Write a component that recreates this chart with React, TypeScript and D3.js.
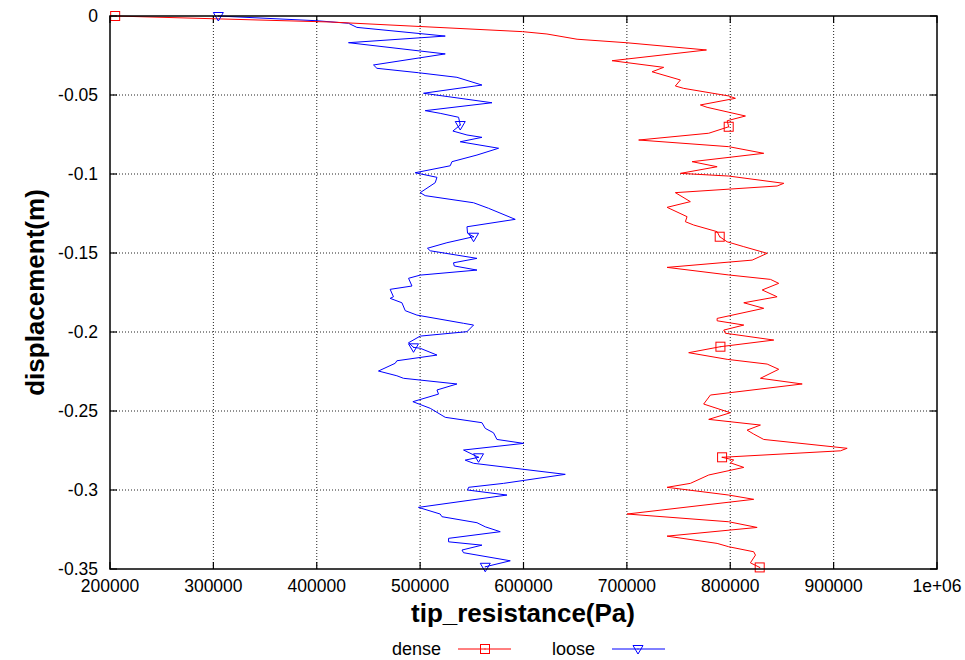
import React from "react";
import * as d3 from "d3";

const xTicks = [200000, 300000, 400000, 500000, 600000, 700000, 800000, 900000, 1000000];
const xTickLabels = ["200000", "300000", "400000", "500000", "600000", "700000", "800000", "900000", "1e+06"];
const yTicks = [0, -0.05, -0.1, -0.15, -0.2, -0.25, -0.3, -0.35];
const yTickLabels = ["0", "-0.05", "-0.1", "-0.15", "-0.2", "-0.25", "-0.3", "-0.35"];
const markerDepths = [0, -0.07, -0.14, -0.21, -0.28, -0.35];

const denseX = [205000, 413000, 599100, 622700, 651800, 699200, 777000, 685700, 735600, 724400, 751800, 746900, 755000, 798500, 805000, 771100, 777600, 814700, 797000, 798500, 779200, 711400, 798500, 832400, 763100, 787300, 751800, 798500, 851800, 845300, 746900, 761400, 738900, 758200, 756600, 764700, 787300, 789800, 797000, 813100, 835700, 821200, 738900, 798500, 838900, 846900, 830900, 845300, 813100, 832400, 787300, 787300, 813100, 793700, 795300, 842100, 790500, 759800, 797000, 835700, 846900, 829200, 869600, 780800, 774300, 800100, 779200, 829200, 816300, 822700, 832400, 913100, 906600, 792100, 803400, 800100, 813100, 779200, 761400, 738900, 798500, 822700, 700200, 798500, 826000, 738900, 787300, 798500, 822700, 824400, 819500, 828500];
const denseY = [0, -0.0038, -0.0099, -0.0114, -0.0147, -0.0169, -0.0215, -0.0283, -0.0325, -0.0353, -0.0405, -0.0443, -0.0458, -0.0506, -0.0521, -0.0563, -0.0578, -0.0633, -0.0663, -0.0701, -0.0742, -0.0785, -0.0827, -0.0869, -0.0922, -0.0954, -0.0996, -0.1013, -0.1059, -0.1076, -0.1118, -0.1175, -0.1211, -0.127, -0.1302, -0.1323, -0.1365, -0.1397, -0.1429, -0.146, -0.1502, -0.1545, -0.1591, -0.1639, -0.1667, -0.1692, -0.1734, -0.1777, -0.1815, -0.185, -0.1914, -0.1929, -0.1956, -0.1988, -0.2008, -0.2051, -0.2093, -0.2131, -0.2173, -0.2203, -0.2236, -0.2293, -0.2329, -0.2399, -0.2456, -0.2511, -0.2553, -0.2589, -0.2621, -0.2646, -0.268, -0.2736, -0.2752, -0.2793, -0.281, -0.2828, -0.2857, -0.2905, -0.2958, -0.2983, -0.3032, -0.3059, -0.3152, -0.3201, -0.3237, -0.3292, -0.3338, -0.3359, -0.3391, -0.3412, -0.3461, -0.349];

const looseX = [304800, 400100, 430700, 438800, 524300, 430700, 524300, 454900, 458200, 498400, 535600, 559800, 503300, 569500, 504900, 519400, 537200, 538800, 531700, 545300, 559800, 538800, 575900, 555000, 530800, 529100, 495200, 516300, 514600, 500100, 504900, 551700, 566200, 592000, 545300, 545900, 551700, 525900, 507100, 509800, 555000, 532300, 533000, 555000, 500100, 488800, 492100, 471000, 474200, 471000, 482400, 485600, 496900, 542000, 551700, 545300, 500100, 488800, 493600, 500100, 516300, 477500, 475900, 459700, 477500, 483900, 535600, 516300, 517800, 493000, 509800, 524300, 559800, 563000, 571000, 574300, 600100, 542000, 556500, 543600, 551700, 640400, 580700, 546900, 545900, 584000, 498400, 519400, 521100, 555000, 563000, 577500, 527500, 527500, 559800, 540500, 542000, 587200, 563000];
const looseY = [0, -0.003, -0.0046, -0.0072, -0.0127, -0.0169, -0.024, -0.031, -0.0331, -0.0359, -0.0388, -0.0437, -0.0489, -0.0549, -0.0599, -0.0616, -0.0641, -0.069, -0.0728, -0.0753, -0.0768, -0.0796, -0.0837, -0.088, -0.0922, -0.0948, -0.0992, -0.1021, -0.1055, -0.1118, -0.1137, -0.1182, -0.1217, -0.1287, -0.1334, -0.1375, -0.1397, -0.1435, -0.147, -0.1486, -0.1534, -0.1562, -0.1582, -0.1608, -0.164, -0.166, -0.1709, -0.173, -0.1777, -0.1787, -0.1815, -0.1865, -0.1893, -0.1945, -0.1956, -0.1998, -0.2026, -0.2068, -0.2097, -0.2103, -0.2146, -0.2182, -0.2198, -0.2247, -0.2277, -0.2293, -0.2329, -0.2367, -0.2393, -0.2441, -0.2483, -0.254, -0.2574, -0.261, -0.2638, -0.268, -0.2705, -0.2747, -0.2793, -0.2811, -0.2831, -0.2901, -0.2958, -0.2983, -0.3, -0.3032, -0.311, -0.3152, -0.3169, -0.3207, -0.3233, -0.3264, -0.3306, -0.3328, -0.3349, -0.338, -0.3397, -0.3448, -0.3486];

const W = 965;
const H = 660;
const L = 110, R = 937, T = 16, B = 569;
const FONT = "'Liberation Sans', Arial, Helvetica, sans-serif";
const RED = "#ff0000";
const BLUE = "#0000ff";

function markerIndices(ys: number[]) {
  return markerDepths.map((d) => {
    let best = 0;
    let bd = Infinity;
    ys.forEach((y, i) => {
      const dd = Math.abs(y - d);
      if (dd < bd) { bd = dd; best = i; }
    });
    return best;
  });
}

function Square({ x, y, c }: { x: number; y: number; c: string }) {
  return (
    <g>
      <rect x={x - 4.5} y={y - 4.5} width={9} height={9} fill="none" stroke={c} strokeWidth={1} />
      <rect x={x - 0.5} y={y - 0.5} width={1} height={1} fill={c} />
    </g>
  );
}

function Tri({ x, y, c }: { x: number; y: number; c: string }) {
  return (
    <g>
      <path d={`M${x - 5},${y - 3.5}L${x + 5},${y - 3.5}L${x},${y + 5}Z`} fill="none" stroke={c} strokeWidth={1} />
      <rect x={x - 0.5} y={y - 0.5} width={1} height={1} fill={c} />
    </g>
  );
}

export default function App() {
  const x = d3.scaleLinear().domain([200000, 1000000]).range([L, R]);
  const y = d3.scaleLinear().domain([-0.35, 0]).range([B, T]);
  const line = d3.line<[number, number]>().x((d) => x(d[0])).y((d) => y(d[1]));
  const dense: [number, number][] = denseX.map((v, i) => [v, denseY[i]]);
  const loose: [number, number][] = looseX.map((v, i) => [v, looseY[i]]);
  const dm = markerIndices(denseY);
  const lm = markerIndices(looseY);
  const tl = 7;

  return (
    <svg width={W} height={H} style={{ position: "absolute", left: 0, top: 0, background: "#fff" }} fontFamily={FONT}>
      <rect x={0} y={0} width={W} height={H} fill="#fff" />
      {xTicks.slice(1, -1).map((t) => (
        <line key={"gx" + t} x1={x(t)} x2={x(t)} y1={T} y2={B} stroke="#222" strokeWidth={1} strokeDasharray="1,2" />
      ))}
      {yTicks.slice(1, -1).map((t) => (
        <line key={"gy" + t} x1={L} x2={R} y1={y(t)} y2={y(t)} stroke="#222" strokeWidth={1} strokeDasharray="1,2" />
      ))}
      {xTicks.map((t) => (
        <g key={"tx" + t}>
          <line x1={x(t)} x2={x(t)} y1={B} y2={B - tl} stroke="#000" strokeWidth={1.2} />
          <line x1={x(t)} x2={x(t)} y1={T} y2={T + tl} stroke="#000" strokeWidth={1.2} />
        </g>
      ))}
      {yTicks.map((t) => (
        <g key={"ty" + t}>
          <line x1={L} x2={L + tl} y1={y(t)} y2={y(t)} stroke="#000" strokeWidth={1.2} />
          <line x1={R} x2={R - tl} y1={y(t)} y2={y(t)} stroke="#000" strokeWidth={1.2} />
        </g>
      ))}
      <path d={line(loose) || ""} fill="none" stroke={BLUE} strokeWidth={1} strokeLinejoin="round" />
      <path d={line(dense) || ""} fill="none" stroke={RED} strokeWidth={1} strokeLinejoin="round" />
      {lm.map((i) => (
        <Tri key={"lm" + i} x={x(looseX[i])} y={y(looseY[i])} c={BLUE} />
      ))}
      {dm.map((i) => (
        <Square key={"dm" + i} x={x(denseX[i])} y={y(denseY[i])} c={RED} />
      ))}
      <rect x={L} y={T} width={R - L} height={B - T} fill="none" stroke="#000" strokeWidth={1.5} />
      {xTicks.map((t, i) => (
        <text key={"lx" + t} x={x(t)} y={592} textAnchor="middle" fontSize={17.5} fill="#000">{xTickLabels[i]}</text>
      ))}
      {yTicks.map((t, i) => (
        <text key={"ly" + t} x={98} y={y(t) + 6} textAnchor="end" fontSize={17.5} fill="#000">{yTickLabels[i]}</text>
      ))}
      <text x={523} y={622} textAnchor="middle" fontSize={26} fontWeight="bold" fill="#000">tip_resistance(Pa)</text>
      <text transform={`translate(44,${(T + B) / 2}) rotate(-90)`} textAnchor="middle" fontSize={26} fontWeight="bold" fill="#000">displacement(m)</text>
      <text x={441} y={655} textAnchor="end" fontSize={18} fill="#000">dense</text>
      <line x1={458} x2={511} y1={649} y2={649} stroke={RED} strokeWidth={1} />
      <Square x={485} y={649} c={RED} />
      <text x={595} y={655} textAnchor="end" fontSize={18} fill="#000">loose</text>
      <line x1={612} x2={665} y1={649} y2={649} stroke={BLUE} strokeWidth={1} />
      <Tri x={638} y={649} c={BLUE} />
    </svg>
  );
}
